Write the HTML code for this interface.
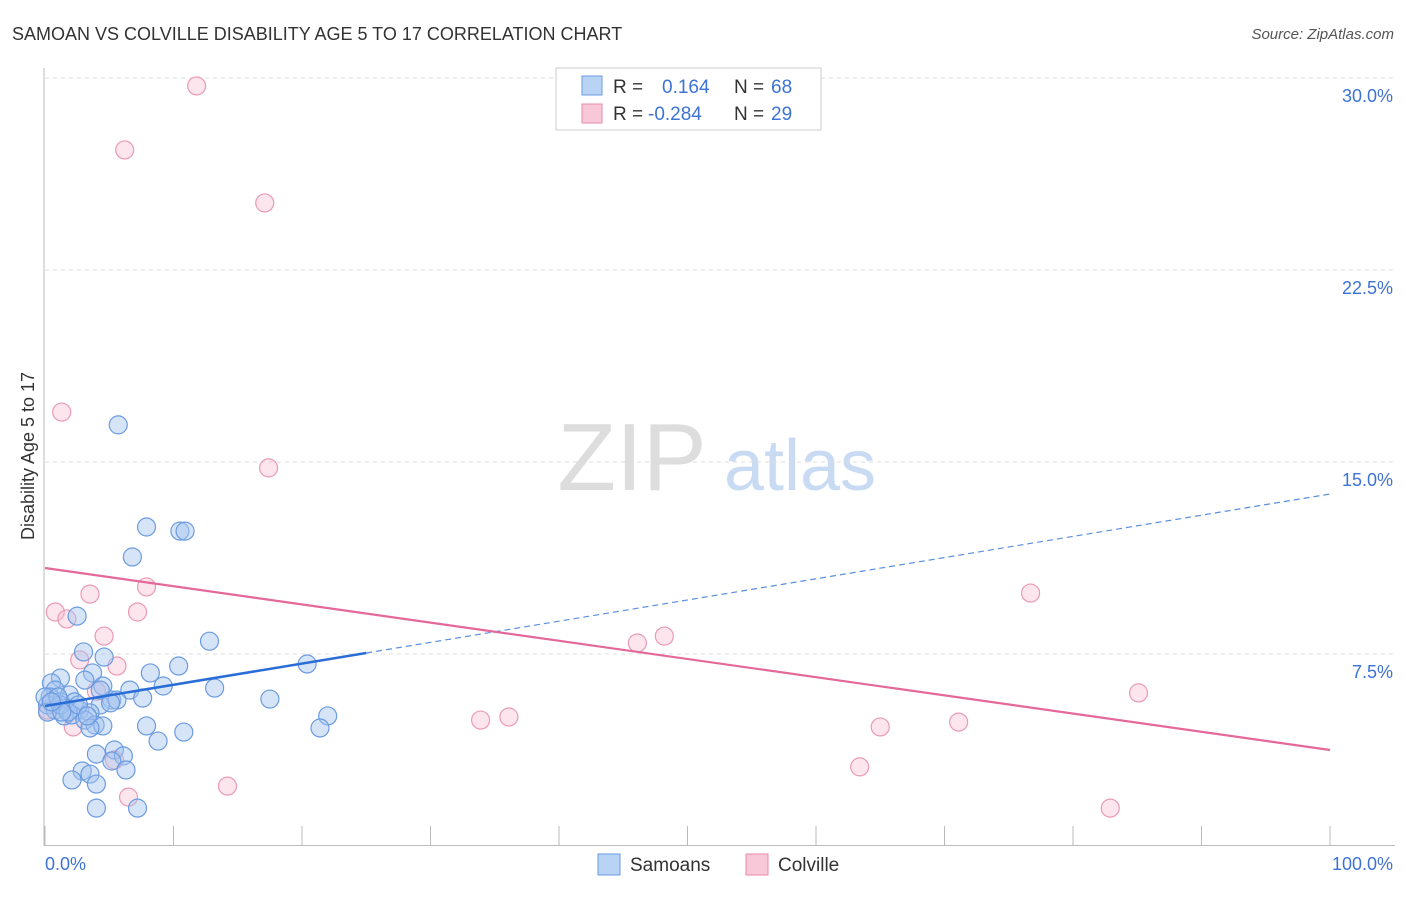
<!DOCTYPE html>
<html><head><meta charset="utf-8"><style>
body{margin:0;background:#fff;font-family:"Liberation Sans",sans-serif;}
svg text{font-family:"Liberation Sans",sans-serif;}
</style></head><body>
<svg width="1406" height="892" viewBox="0 0 1406 892">
<text x="12" y="40" font-size="18" fill="#333">SAMOAN VS COLVILLE DISABILITY AGE 5 TO 17 CORRELATION CHART</text>
<text x="1394" y="39" font-size="15" fill="#555" text-anchor="end" font-style="italic">Source: ZipAtlas.com</text>
<g>
<text x="632" y="490" font-size="96" fill="#ddd" text-anchor="middle" font-family="Liberation Serif, serif">ZIP</text>
<text x="800" y="490" font-size="72" fill="#c9dbf3" text-anchor="middle">atlas</text>
</g>
<g id="grid"></g>
<g id="axes"></g>
<g id="pts"></g>
<g id="trends"></g>
<text transform="translate(34,456) rotate(-90)" font-size="18" fill="#333" text-anchor="middle">Disability Age 5 to 17</text>
<text x="45" y="870" font-size="18" fill="#3d73d6">0.0%</text>
<text x="1393" y="870" font-size="18" fill="#3d73d6" text-anchor="end">100.0%</text>
<g>
<rect x="556" y="68" width="265" height="62" fill="#fff" stroke="#ccc"/>
<rect x="582" y="76" width="20" height="19" fill="#b9d3f5" stroke="#6b9be0"/>
<rect x="582" y="104" width="20" height="19" fill="#f9c8d8" stroke="#e88aa8"/>
<text x="613" y="93" font-size="19" fill="#333">R = </text><text x="662" y="93" font-size="19" fill="#3d73d6">0.164</text>
<text x="734" y="93" font-size="19" fill="#333">N = </text><text x="771" y="93" font-size="19" fill="#3d73d6">68</text>
<text x="613" y="120" font-size="19" fill="#333">R = </text><text x="648" y="120" font-size="19" fill="#3d73d6">-0.284</text>
<text x="734" y="120" font-size="19" fill="#333">N = </text><text x="771" y="120" font-size="19" fill="#3d73d6">29</text>
</g>
<g>
<rect x="598" y="854" width="22" height="21" fill="#b9d3f5" stroke="#6b9be0"/>
<text x="630" y="871" font-size="19" fill="#333">Samoans</text>
<rect x="746" y="854" width="22" height="21" fill="#f9c8d8" stroke="#e88aa8"/>
<text x="778" y="871" font-size="19" fill="#333">Colville</text>
</g>
</svg>
<script>
const yTicks=[7.5,15,22.5,30];
const yTickLabels=["7.5%","15.0%","22.5%","30.0%"];
const blueX=[5.7,7.9,10.5,10.9,6.8,2.5,12.8,3.0,4.6,10.4,8.2,20.4,3.7,1.2,0.5,3.1,4.5,6.6,9.2,13.2,17.5,7.6,5.2,5.6,0.8,0.4,1.9,1.2,2.3,0.2,1.6,2.7,4.3,3.5,0.8,1.5,2.1,3.1,3.9,4.5,3.5,7.9,10.8,8.8,22.0,21.4,4.0,5.4,6.1,5.2,6.3,2.9,3.5,2.1,4.0,4.0,7.2,0.0,0.2,1.2,1.8,2.6,1.0,1.3,4.3,3.3,0.5,5.1];
const blueY=[16.45,12.46,12.3,12.3,11.29,8.98,8.0,7.58,7.38,7.03,6.76,7.11,6.76,6.56,6.37,6.48,6.25,6.09,6.25,6.17,5.74,5.78,5.70,5.70,6.09,5.82,5.90,5.63,5.63,5.51,5.39,5.31,5.51,5.20,5.31,5.08,5.12,4.92,4.73,4.69,4.61,4.69,4.45,4.10,5.08,4.61,3.59,3.75,3.52,3.32,2.97,2.93,2.81,2.58,2.42,1.48,1.48,5.82,5.23,5.51,5.23,5.51,5.82,5.23,6.09,5.08,5.63,5.59];
const pinkX=[11.8,6.2,17.1,1.3,17.4,0.8,1.7,7.9,3.5,7.2,4.6,2.7,5.6,4.0,2.2,0.2,6.5,5.4,14.2,33.9,36.1,46.1,48.2,76.7,85.1,65.0,71.1,63.4,82.9];
const pinkY=[29.69,27.19,25.12,16.95,14.77,9.14,8.87,10.12,9.84,9.14,8.20,7.27,7.03,6.05,4.65,5.31,1.91,3.36,2.34,4.92,5.04,7.93,8.20,9.88,5.98,4.65,4.84,3.09,1.48];
const blueTrend=[5.47,13.75];
const pinkTrend=[10.86,3.75];
const NS="http://www.w3.org/2000/svg";
const X=v=>45+v*12.85, Y=v=>846-v*25.6;
function mk(t,a,p){const e=document.createElementNS(NS,t);for(const k in a)e.setAttribute(k,a[k]);document.getElementById(p).appendChild(e);return e;}
yTicks.forEach((t,i)=>{
 const g=mk('line',{x1:45,x2:1395,y1:Y(t),y2:Y(t),stroke:'#ddd','stroke-dasharray':'4,4'},'grid');
 
 
 const l=mk('text',{x:1393,y:Y(t)+24,'font-size':18,fill:'#3d73d6','text-anchor':'end'},'grid');
 l.textContent=yTickLabels[i];
 
 
});
const ax=mk('line',{x1:44,x2:44,y1:68,y2:846,stroke:'#bbb'},'axes');


const bx=mk('line',{x1:44,x2:1395,y1:845.5,y2:845.5,stroke:'#bbb'},'axes');


for(let i=0;i<=10;i++){const t=mk('line',{x1:X(i*10),x2:X(i*10),y1:826,y2:846,stroke:'#bbb'},'axes');
 
 }
function pts(xs,ys,fill,stroke,name){xs.forEach((x,i)=>{const c=mk('circle',{cx:X(x),cy:Y(ys[i]),r:9,fill:fill,stroke:stroke,'stroke-width':1.2},'pts');
 
 });}
pts(pinkX,pinkY,'rgba(248,190,210,0.4)','#eb9ab4','colville-point');
pts(blueX,blueY,'rgba(164,196,240,0.45)','#6b9be0','samoan-point');
const bt=v=>blueTrend[0]+(blueTrend[1]-blueTrend[0])*v/100, pt=v=>pinkTrend[0]+(pinkTrend[1]-pinkTrend[0])*v/100;
let l=mk('line',{x1:X(0),y1:Y(bt(0)),x2:X(25),y2:Y(bt(25)),stroke:'#2a6dd6','stroke-width':2.5},'trends');


l=mk('line',{x1:X(25),y1:Y(bt(25)),x2:X(100),y2:Y(bt(100)),stroke:'#5b8fe0','stroke-width':1.2,'stroke-dasharray':'6,4'},'trends');


l=mk('line',{x1:X(0),y1:Y(pt(0)),x2:X(100),y2:Y(pt(100)),stroke:'#e4689a','stroke-width':2.2},'trends');


</script>
</body></html>
